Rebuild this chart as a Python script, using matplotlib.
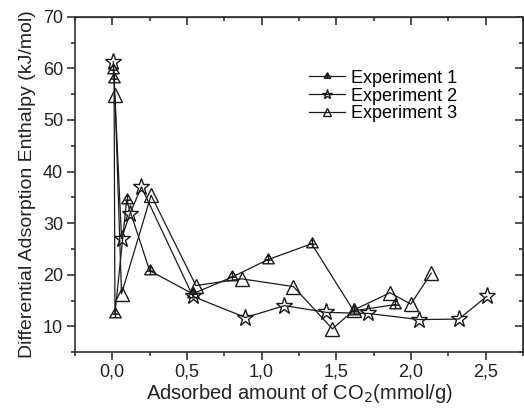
import numpy as np
import matplotlib.pyplot as plt
from matplotlib.path import Path
from matplotlib.ticker import MultipleLocator, FuncFormatter

plt.rcParams['font.family'] = ['Liberation Sans', 'DejaVu Sans']

# experiment 1 (triangle with cross)
x1 = [0.008, 0.012, 0.018, 0.096, 0.25, 0.538, 0.80, 1.04, 1.335, 1.616, 1.893]
y1 = [59.6, 58.0, 12.4, 34.4, 20.8, 16.3, 19.5, 22.9, 26.0, 13.0, 14.2]
# experiment 2 (star)
x2 = [0.007, 0.062, 0.118, 0.195, 0.54, 0.892, 1.153, 1.434, 1.711, 2.057, 2.32, 2.508]
y2 = [61.3, 27.0, 31.8, 37.0, 15.8, 11.7, 14.0, 12.7, 12.5, 11.3, 11.4, 15.8]
# experiment 3 (open triangle)
x3 = [0.018, 0.062, 0.26, 0.56, 0.866, 1.213, 1.474, 1.62, 1.86, 1.999, 2.136]
y3 = [54.8, 16.3, 35.4, 17.9, 19.2, 17.7, 9.5, 13.2, 16.5, 14.3, 20.3]

labels = ['Experiment 1', 'Experiment 2', 'Experiment 3']

# triangle with a plus inside
tri_cross = Path(
    [(0, 1), (-0.87, -0.5), (0.87, -0.5), (0, 1),
     (0, 0.9), (0, -0.5), (-0.45, 0.05), (0.45, 0.05)],
    [Path.MOVETO, Path.LINETO, Path.LINETO, Path.CLOSEPOLY,
     Path.MOVETO, Path.LINETO, Path.MOVETO, Path.LINETO])

col = '#1a1a1a'
tc = '#333333'
fig = plt.figure(figsize=(5.24, 4.08), dpi=100)
ax = fig.add_axes([0.143, 0.137, 0.855, 0.822])

ax.plot(x1, y1, color=col, lw=0.9, marker=tri_cross, ms=9.5, mfc='none', mec=col, mew=1, label=labels[0])
ax.plot(x2, y2, color=col, lw=0.9, marker='*', ms=12.5, mfc='none', mec=col, mew=1, label=labels[1])
ax.plot(x3, y3, color=col, lw=0.9, marker='^', ms=10, mfc='none', mec=col, mew=1, label=labels[2])

ax.set_xlim(-0.25, 2.75)
ax.set_ylim(5, 70)
ax.xaxis.set_major_locator(MultipleLocator(0.5))
ax.xaxis.set_minor_locator(MultipleLocator(0.25))
ax.yaxis.set_major_locator(MultipleLocator(10))
ax.yaxis.set_minor_locator(MultipleLocator(5))
ax.xaxis.set_major_formatter(FuncFormatter(lambda v, p: f'{v:.1f}'.replace('.', ',')))
ax.set_yticks(np.arange(10, 71, 10))

ax.tick_params(which='major', direction='out', length=5.5, width=1.2, labelsize=13, pad=3,
               colors=tc, labelcolor='#222222')
ax.tick_params(which='minor', direction='out', length=3, width=1.2, colors=tc)
for s in ax.spines.values():
    s.set_linewidth(1.2)
    s.set_color(tc)

# top / right ticks pointing inward
top = ax.secondary_xaxis('top')
top.xaxis.set_major_locator(MultipleLocator(0.5))
top.xaxis.set_minor_locator(MultipleLocator(0.25))
top.tick_params(which='major', direction='in', length=5.5, width=1.2, labeltop=False, colors=tc)
top.tick_params(which='minor', direction='in', length=3, width=1.2, colors=tc)
right = ax.secondary_yaxis('right')
right.yaxis.set_major_locator(MultipleLocator(10))
right.yaxis.set_minor_locator(MultipleLocator(5))
right.tick_params(which='major', direction='in', length=5.5, width=1.2, labelright=False, colors=tc)
right.tick_params(which='minor', direction='in', length=3, width=1.2, colors=tc)

ax.set_xlabel('Adsorbed amount of CO$_2$(mmol/g)', fontsize=14.5, color='#222222', labelpad=1)
ax.set_ylabel('Differential Adsorption Enthalpy (kJ/mol)', fontsize=14, color='#222222', labelpad=5)

ax.legend(loc='upper left', bbox_to_anchor=(0.495, 0.88), frameon=False, fontsize=13,
          handlelength=2.0, handletextpad=0.3, labelspacing=0.05, borderpad=0.2, markerscale=0.55)

fig.savefig('out.png', dpi=100)
